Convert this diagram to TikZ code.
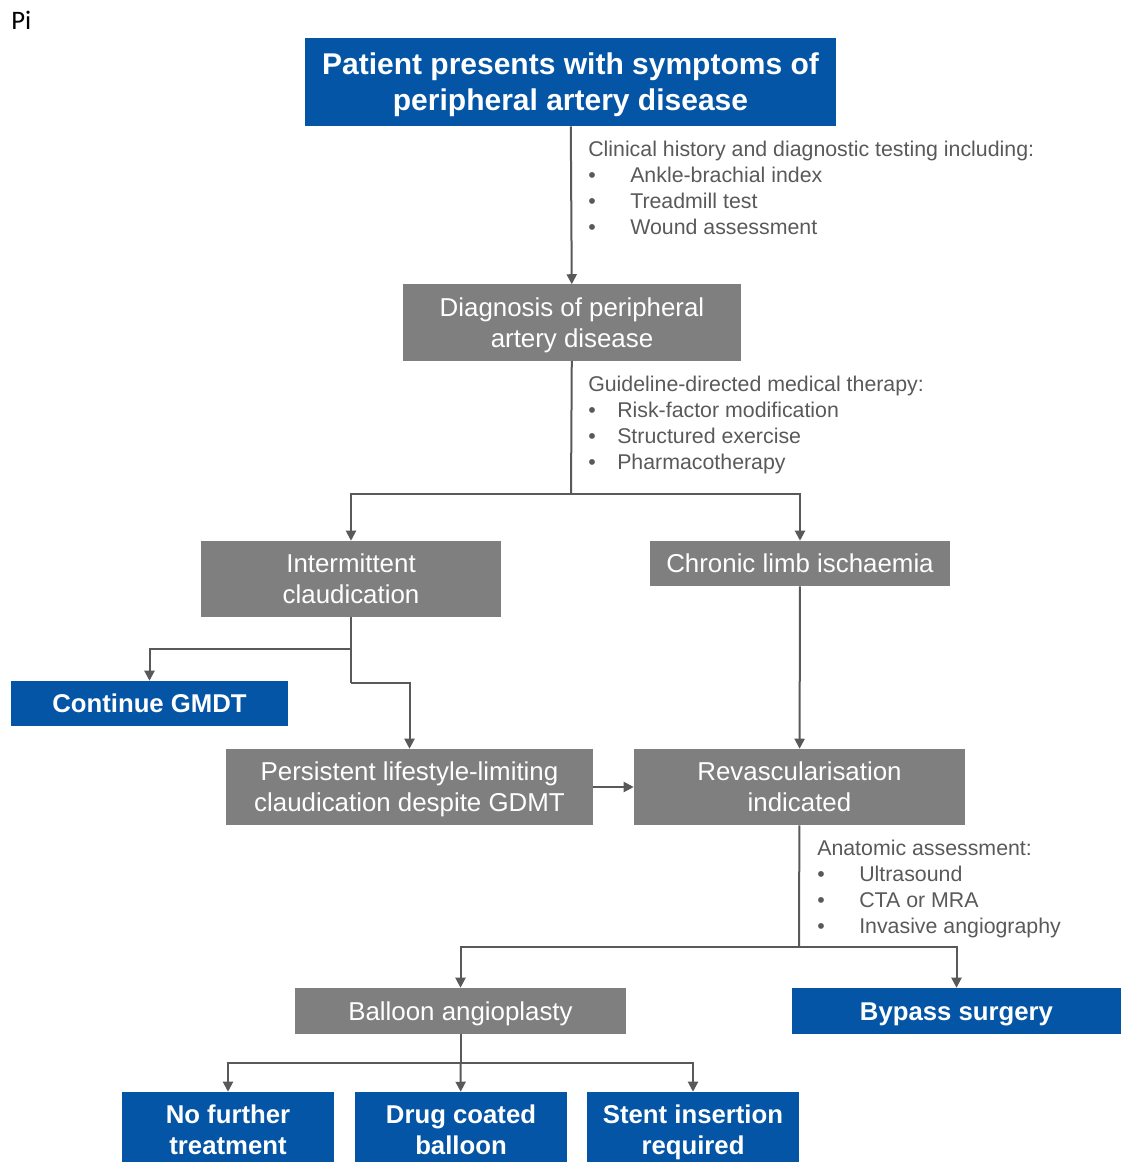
\documentclass[tikz,border=0pt]{standalone}
\usepackage{fontspec}
\setmainfont{Liberation Sans}
\newfontfamily\calibri{Carlito}
\usetikzlibrary{arrows.meta}
\definecolor{padblue}{HTML}{0455A5}
\definecolor{padgrey}{HTML}{7F7F7F}
\definecolor{padline}{HTML}{595959}
\newcommand{\bul}[1]{\makebox[#1][l]{\textbullet}}
\newcommand{\padstrut}{\rule[-0.25em]{0pt}{1.216em}}

\begin{document}
\begin{tikzpicture}[x=0.75pt, y=-0.75pt,
	box/.style={text=white, inner sep=0pt, align=center},
	oneline/.style={execute at begin node=\padstrut, execute at end node=\padstrut},
	twoline/.style={text height=41.7pt, text depth=4.85pt},
	bluebox/.style={box, fill=padblue, font=\bfseries\fontsize{19.3}{23}\selectfont},
	greybox/.style={box, fill=padgrey, font=\fontsize{19.4}{23}\selectfont},
	note/.style={text=padline, inner sep=0pt, align=left, anchor=north west, font=\fontsize{16}{19.5}\selectfont},
	link/.style={draw=padline, line width=1.5pt},
	arr/.style={link, -{Triangle[length=7.5pt,width=7.5pt]}}]
	\useasboundingbox (0,0) rectangle (1121,1162);
	\clip (0,0) rectangle (1121,1162);

	\node[anchor=base west, inner sep=0pt, font=\calibri\fontsize{20}{24}\selectfont] (pi) at (11,30) {Pi};

	% boxes
	\node[bluebox, minimum width=398.25pt, minimum height=66pt, font=\bfseries\fontsize{22.5}{27}\selectfont, text height=48.74pt, text depth=5.6pt] (present) at (570.5,82) {Patient presents with symptoms of\\peripheral artery disease};
	\node[greybox, twoline, minimum width=253.5pt, minimum height=57pt] (diag) at (572,322.5) {Diagnosis of peripheral\\artery disease};
	\node[greybox, twoline, minimum width=225pt, minimum height=57pt] (ic) at (351,579) {Intermittent\\claudication};
	\node[greybox, oneline, minimum width=225pt, minimum height=33.75pt] (cli) at (800,563.5) {Chronic limb ischaemia};
	\node[bluebox, oneline, minimum width=207.75pt, minimum height=33.75pt] (gmdt) at (149.5,703.5) {Continue GMDT};
	\node[greybox, twoline, minimum width=275.25pt, minimum height=57pt] (pers) at (409.5,787) {Persistent lifestyle-limiting\\claudication despite GDMT};
	\node[greybox, twoline, minimum width=248.25pt, minimum height=57pt] (revasc) at (799.5,787) {Revascularisation\\indicated};
	\node[greybox, oneline, minimum width=248.25pt, minimum height=34.5pt] (balloon) at (460.5,1011) {Balloon angioplasty};
	\node[bluebox, oneline, minimum width=246.75pt, minimum height=34.5pt] (bypass) at (956.5,1011) {Bypass surgery};
	\node[bluebox, twoline, minimum width=159pt, minimum height=57pt] (nofurther) at (228,1130) {No further\\treatment};
	\node[bluebox, twoline, minimum width=159pt, minimum height=57pt] (drug) at (461,1130) {Drug coated\\balloon};
	\node[bluebox, twoline, minimum width=159pt, minimum height=57pt] (stent) at (693,1130) {Stent insertion\\required};

	% notes
	\node[note] (history) at (588,141) {Clinical history and diagnostic testing including:\\
		\bul{31.5pt}Ankle-brachial index\\
		\bul{31.5pt}Treadmill test\\
		\bul{31.5pt}Wound assessment};
	\node[note] (therapy) at (588,376) {Guideline-directed medical therapy:\\
		\bul{21.75pt}Risk-factor modification\\
		\bul{21.75pt}Structured exercise\\
		\bul{21.75pt}Pharmacotherapy};
	\node[note] (anatomy) at (817,840) {Anatomic assessment:\\
		\bul{31.5pt}Ultrasound\\
		\bul{31.5pt}CTA or MRA\\
		\bul{31.5pt}Invasive angiography};

	% branch points
	\coordinate (split1) at (571,494);
	\coordinate (split2) at (351,649);
	\coordinate (split3) at (351,683);
	\coordinate (split4) at (799,947);
	\coordinate (split5) at (460.5,1063);

	% connectors
	\draw[arr] (present) -- (diag);
	\draw[link] (diag) -- (split1);
	\draw[arr] (split1) -| (ic);
	\draw[arr] (split1) -| (cli);
	\draw[link] (ic) -- (split2) -- (split3);
	\draw[arr] (split2) -| (gmdt);
	\draw[arr] (split3) -| (pers);
	\draw[arr] (pers) -- (revasc);
	\draw[arr] (cli) -- (revasc);
	\draw[link] (revasc) -- (split4);
	\draw[arr] (split4) -| (balloon);
	\draw[arr] (split4) -| (bypass);
	\draw[link] (balloon) -- (split5);
	\draw[arr] (split5) -| (nofurther);
	\draw[arr] (split5) -- (drug);
	\draw[arr] (split5) -| (stent);
\end{tikzpicture}
\end{document}
